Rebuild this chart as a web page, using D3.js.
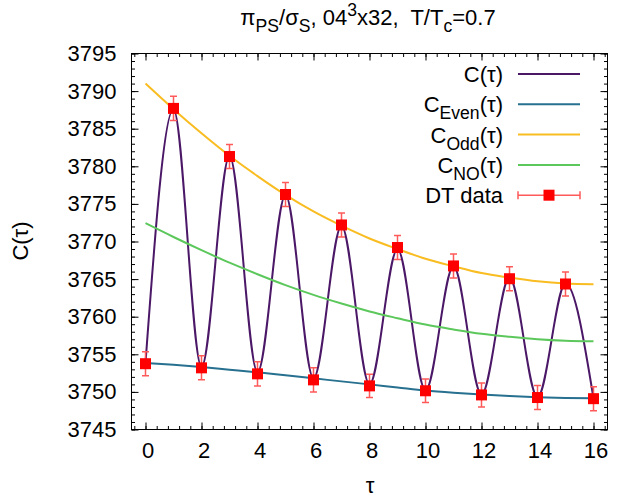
<!DOCTYPE html>
<html>
<head>
<meta charset="utf-8">
<script src="https://cdn.jsdelivr.net/npm/d3@7"></script>
<style>
  body { margin: 0; background: #fff; }
  text { font-family: 'Liberation Sans', Arial, sans-serif; fill: #000; }
</style>
</head>
<body>
<svg id="chart" width="629" height="504"></svg>
<script>
// tau values (0..16)
const tau = d3.range(0, 17)

// DT data and errors
const dtData = [3753.75, 3787.7, 3753.2, 3781.3, 3752.4, 3776.25, 3751.6, 3772.2, 3750.8,
  3769.2, 3750.15, 3766.75, 3749.6, 3765.05, 3749.25, 3764.35, 3749.1]
const dtErr = [1.6, 1.6, 1.6, 1.6, 1.6, 1.6, 1.6, 1.6, 1.55, 1.6, 1.55, 1.6, 1.6, 1.6, 1.6, 1.6, 1.6]

const cOdd = [3791.0, 3787.6, 3784.4, 3781.4, 3778.7, 3776.2, 3774.0, 3772.1, 3770.4,
  3769.0, 3767.7, 3766.7, 3765.8, 3765.2, 3764.7, 3764.4, 3764.3]
const cEven = [3753.85, 3753.6, 3753.3, 3752.95, 3752.6, 3752.2, 3751.8, 3751.4, 3751.0,
  3750.6, 3750.2, 3749.9, 3749.65, 3749.45, 3749.3, 3749.2, 3749.15]
const cNO = [3772.43, 3770.6, 3768.85, 3767.18, 3765.65, 3764.2, 3762.9, 3761.75, 3760.7,
  3759.8, 3758.95, 3758.3, 3757.73, 3757.33, 3757.0, 3756.8, 3756.73]
// full correlator follows the even curve at even tau, the odd curve at odd tau
const cFull = [3753.85, 3787.6, 3753.3, 3781.4, 3752.6, 3776.2, 3751.8, 3772.1, 3751.0,
  3769.0, 3750.2, 3766.7, 3749.65, 3765.2, 3749.3, 3764.4, 3749.15]

const xTicks = [0, 2, 4, 6, 8, 10, 12, 14, 16]
const yTicks = [3745, 3750, 3755, 3760, 3765, 3770, 3775, 3780, 3785, 3790, 3795]

const colors = {
  full: '#4b1767',
  even: '#27708f',
  odd: '#f9bd22',
  no: '#5cc85c',
  dt: '#ff0000',
}

let svg = d3.select('#chart')
let x = d3.scaleLinear().domain([-0.5, 16.5]).range([131.5, 607.5])
let y = d3.scaleLinear().domain([3745, 3795]).range([429.5, 53.5])
let fontSize = 22

// minor ticks
let xMinor = d3.range(-0.4, 16.5, 0.4)
let yMinor = d3.range(3745, 3795.5, 1)

let axes = svg.append('g').classed('axes', true)
let addAxis = function(axis, transform) {
  let g = axes.append('g').attr('transform', transform).call(axis)
  g.select('.domain').remove()
  g.selectAll('line').attr('stroke', '#000').attr('stroke-width', 1)
  return g
}

// bottom / left with labels
let xAxis = addAxis(
  d3.axisBottom(x).tickValues(xTicks).tickSize(-7).tickPadding(13).tickFormat(d3.format('d')),
  'translate(0,' + y.range()[0] + ')'
)
xAxis.selectAll('text').attr('dx', 2).style('font-size', fontSize + 'px')
  .style('font-family', "'Liberation Sans', Arial, sans-serif")
let yAxis = addAxis(
  d3.axisLeft(y).tickValues(yTicks).tickSize(-7).tickPadding(15).tickFormat(d3.format('d')),
  'translate(' + x.range()[0] + ',0)'
)
yAxis.selectAll('text').style('font-size', fontSize + 'px')
  .style('font-family', "'Liberation Sans', Arial, sans-serif")

// mirrored ticks
addAxis(d3.axisTop(x).tickValues(xTicks).tickSize(-7).tickFormat(''),
  'translate(0,' + y.range()[1] + ')')
addAxis(d3.axisRight(y).tickValues(yTicks).tickSize(-7).tickFormat(''),
  'translate(' + x.range()[1] + ',0)')
addAxis(d3.axisBottom(x).tickValues(xMinor).tickSize(-3.5).tickFormat(''),
  'translate(0,' + y.range()[0] + ')')
addAxis(d3.axisTop(x).tickValues(xMinor).tickSize(-3.5).tickFormat(''),
  'translate(0,' + y.range()[1] + ')')
addAxis(d3.axisLeft(y).tickValues(yMinor).tickSize(-3.5).tickFormat(''),
  'translate(' + x.range()[0] + ',0)')
addAxis(d3.axisRight(y).tickValues(yMinor).tickSize(-3.5).tickFormat(''),
  'translate(' + x.range()[1] + ',0)')

// frame
svg.append('rect')
  .attr('x', x.range()[0])
  .attr('y', y.range()[1])
  .attr('width', x.range()[1] - x.range()[0])
  .attr('height', y.range()[0] - y.range()[1])
  .attr('fill', 'none')
  .attr('stroke', '#000')
  .attr('stroke-width', 1)

// curves
let line = d3.line()
  .x(function(d, i) { return x(tau[i]) })
  .y(function(d) { return y(d) })
  .curve(d3.curveMonotoneX)

let series = [
  { key: 'full', values: cFull, width: 2 },
  { key: 'even', values: cEven, width: 2 },
  { key: 'odd', values: cOdd, width: 2 },
  { key: 'no', values: cNO, width: 2 },
]
svg.append('g').classed('curves', true)
  .selectAll('path')
  .data(series)
  .enter()
  .append('path')
  .attr('d', function(d) { return line(d.values) })
  .attr('fill', 'none')
  .attr('stroke', function(d) { return colors[d.key] })
  .attr('stroke-width', function(d) { return d.width })

// error bars and points
let capW = 3.5
let errColor = '#ff5a5a'
let pts = svg.append('g').classed('dt', true)
  .selectAll('g')
  .data(dtData)
  .enter()
  .append('g')
pts.append('path')
  .attr('d', function(d, i) {
    let cx = x(tau[i])
    let y0 = y(d - dtErr[i]), y1 = y(d + dtErr[i])
    return 'M' + cx + ',' + y0 + 'V' + y1 +
      'M' + (cx - capW) + ',' + y0 + 'H' + (cx + capW) +
      'M' + (cx - capW) + ',' + y1 + 'H' + (cx + capW)
  })
  .attr('fill', 'none')
  .attr('stroke', errColor)
  .attr('stroke-width', 1.5)
pts.append('rect')
  .attr('x', function(d, i) { return x(tau[i]) - 5.5 })
  .attr('y', function(d) { return y(d) - 5.5 })
  .attr('width', 11)
  .attr('height', 11)
  .attr('fill', colors.dt)

// helper for text with sub/superscripts: parts = [[text, 'n'|'sub'|'sup'], ...]
let richText = function(sel, parts) {
  parts.forEach(function(p) {
    let t = sel.append('tspan').text(p[0])
    if (p[1] === 'sub') t.attr('dy', 7).style('font-size', '0.8em')
    if (p[1] === 'sup') t.attr('dy', -9).style('font-size', '0.8em')
    if (p[1] === 'nsub') t.attr('dy', -7)
    if (p[1] === 'nsup') t.attr('dy', 9)
  })
  return sel
}

// legend
let legend = [
  { parts: [['C(τ)', 'n']], key: 'full' },
  { parts: [['C', 'n'], ['Even', 'sub'], ['(τ)', 'nsub']], key: 'even' },
  { parts: [['C', 'n'], ['Odd', 'sub'], ['(τ)', 'nsub']], key: 'odd' },
  { parts: [['C', 'n'], ['NO', 'sub'], ['(τ)', 'nsub']], key: 'no' },
  { parts: [['DT data', 'n']], key: 'dt' },
]
let legendG = svg.append('g').classed('legend', true)
legend.forEach(function(d, i) {
  let ly = 74 + i * 30.3
  let t = legendG.append('text')
    .attr('x', 503)
    .attr('y', ly + 8)
    .attr('text-anchor', 'end')
    .style('font-size', fontSize + 'px')
  richText(t, d.parts)
  if (d.key === 'dt') {
    legendG.append('path')
      .attr('d', 'M518,' + ly + 'H580M518,' + (ly - 4) + 'V' + (ly + 4) + 'M580,' + (ly - 4) + 'V' + (ly + 4))
      .attr('fill', 'none')
      .attr('stroke', errColor)
      .attr('stroke-width', 1.5)
    legendG.append('rect')
      .attr('x', 549 - 5.5).attr('y', ly - 5.5)
      .attr('width', 11).attr('height', 11)
      .attr('fill', colors.dt)
  } else {
    legendG.append('line')
      .attr('x1', 518).attr('x2', 580)
      .attr('y1', ly).attr('y2', ly)
      .attr('stroke', colors[d.key])
      .attr('stroke-width', 2)
  }
})

// title
let title = svg.append('text')
  .attr('x', 368)
  .attr('y', 25)
  .attr('text-anchor', 'middle')
  .style('font-size', '22px')
richText(title, [['π', 'n'], ['PS', 'sub'], ['/σ', 'nsub'], ['S', 'sub'], [', 04', 'nsub'],
  ['3', 'sup'], ['x32,  T/T', 'nsup'], ['c', 'sub'], ['=0.7', 'nsub']])
title.attr('xml:space', 'preserve')

// axis labels
svg.append('text')
  .attr('x', 370)
  .attr('y', 493)
  .attr('text-anchor', 'middle')
  .style('font-size', fontSize + 'px')
  .text('τ')
svg.append('text')
  .attr('transform', 'translate(28,241) rotate(-90)')
  .attr('text-anchor', 'middle')
  .style('font-size', fontSize + 'px')
  .text('C(τ)')
</script>
</body>
</html>
